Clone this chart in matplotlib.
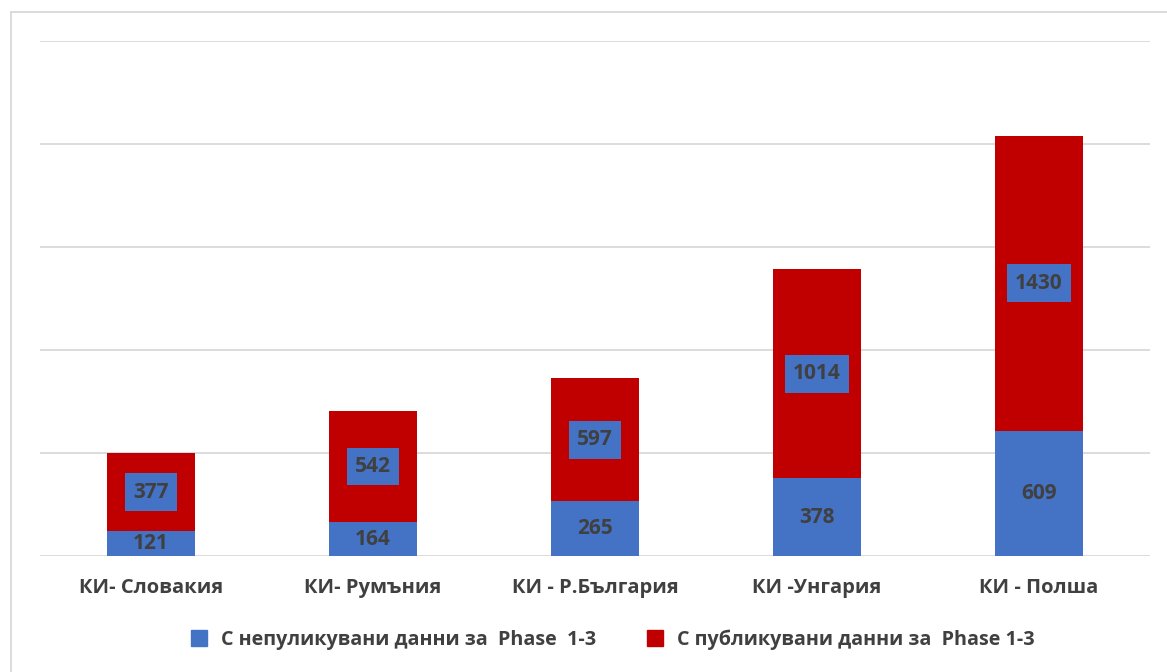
import matplotlib
matplotlib.use('Agg')

import numpy as np
import matplotlib.pyplot as plt
from matplotlib.lines import Line2D

categories = ["КИ- Словакия", "КИ- Румъния", "КИ - Р.България", "КИ -Унгария", "КИ - Полша"]
unpublished = [121, 164, 265, 378, 609]
published = [377, 542, 597, 1014, 1430]
series_names = ["С непуликувани данни за  Phase  1-3", "С публикувани данни за  Phase 1-3"]

BLUE = "#4472C4"
RED = "#C00000"
TEXT = "#404040"

plt.rcParams['font.family'] = ['Open Sans', 'DejaVu Sans']

fig = plt.figure(figsize=(11.67, 6.72), dpi=100)
ax = fig.add_axes([40 / 1167, 1 - 556 / 672, 1110 / 1167, 515 / 672])

x = np.arange(len(categories))
ax.bar(x, unpublished, width=0.4, color=BLUE, zorder=3)
ax.bar(x, published, width=0.4, bottom=unpublished, color=RED, zorder=3)

# value labels: plain on the blue part, boxed on the red part
for xi, u, p in zip(x, unpublished, published):
    ax.text(xi, u / 2, str(u), ha='center', va='center', fontsize=15,
            fontweight='bold', color=TEXT, zorder=4)
    ax.text(xi, u + p / 2, str(p), ha='center', va='center', fontsize=15,
            fontweight='bold', color=TEXT, zorder=4,
            bbox=dict(boxstyle='square,pad=0.4', fc=BLUE, ec='none'))

ax.set_xlim(-0.5, len(categories) - 0.5)
ax.set_ylim(0, 2500)
ax.set_yticks(np.arange(0, 2501, 500))
ax.yaxis.grid(True, color='#D9D9D9', linewidth=1.3, zorder=0)
ax.set_yticklabels([])
ax.tick_params(axis='y', length=0)
ax.tick_params(axis='x', length=0, pad=16)
ax.set_xticks(x)
ax.set_xticklabels(categories, fontsize=14.5, fontweight='bold', color=TEXT)
for s in ax.spines.values():
    s.set_visible(False)

handles = [Line2D([], [], marker='s', linestyle='none', markersize=11, color=BLUE),
           Line2D([], [], marker='s', linestyle='none', markersize=11, color=RED)]
fig.legend(handles, series_names, loc='center', bbox_to_anchor=(607 / 1167, 1 - 640 / 672),
           ncol=2, frameon=False, handletextpad=0.1, columnspacing=2.0,
           prop=dict(size=14.2, weight='bold'), labelcolor=TEXT)

# chart frame
fig.add_artist(Line2D([11 / 1167, 11 / 1167], [1 - 12 / 672, 0], color='#D9D9D9', lw=1.3))
fig.add_artist(Line2D([11 / 1167, 1], [1 - 12 / 672, 1 - 12 / 672], color='#D9D9D9', lw=1.3))

fig.savefig("out.png", dpi=100)
